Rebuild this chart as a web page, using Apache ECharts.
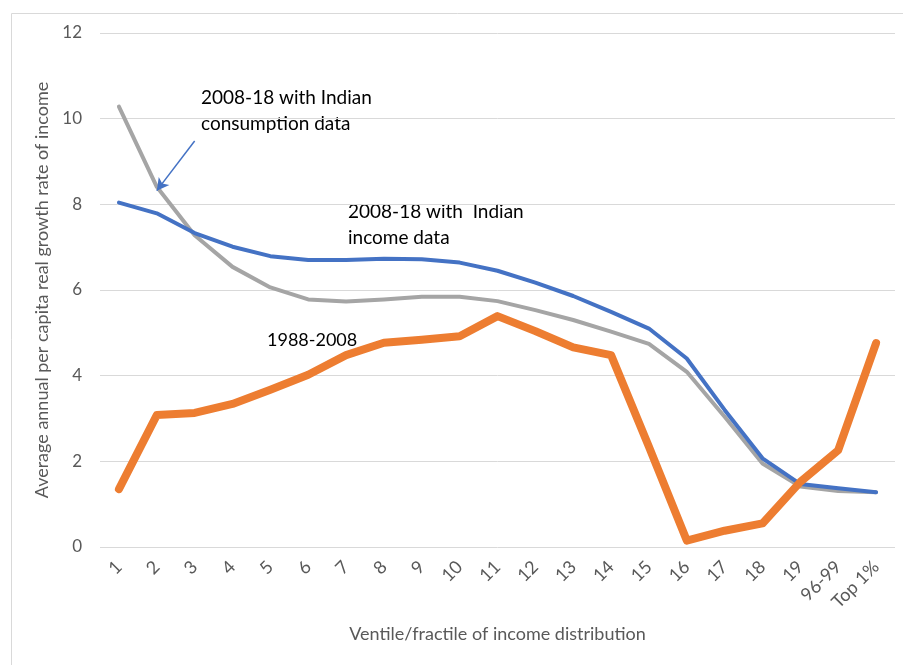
<!DOCTYPE html>
<html>
<head>
<meta charset="utf-8">
<script src="https://cdn.jsdelivr.net/npm/echarts@6/dist/echarts.min.js"></script>
<style>
  html, body { margin: 0; padding: 0; background: #fff; }
  #main { width: 903px; height: 665px; }
</style>
</head>
<body>
<div id="main"></div>
<script>
// categories on the x axis
const ventiles = ["1", "2", "3", "4", "5", "6", "7", "8", "9", "10", "11", "12", "13", "14", "15", "16", "17", "18", "19", "96-99", "Top 1%"];
// 2008-18, Indian income data
const incomeData = [8.04, 7.79, 7.33, 7.01, 6.79, 6.70, 6.70, 6.73, 6.72, 6.64, 6.45, 6.17, 5.86, 5.49, 5.10, 4.40, 3.20, 2.07, 1.47, 1.37, 1.28];
// 2008-18, Indian consumption data
const consumptionData = [10.28, 8.41, 7.28, 6.54, 6.06, 5.78, 5.73, 5.78, 5.84, 5.84, 5.74, 5.53, 5.30, 5.03, 4.74, 4.09, 3.04, 1.95, 1.41, 1.31, 1.28];
// 1988-2008
const oldData = [1.35, 3.08, 3.13, 3.34, 3.67, 4.02, 4.48, 4.77, 4.84, 4.92, 5.39, 5.04, 4.66, 4.48, 2.34, 0.15, 0.38, 0.55, 1.52, 2.26, 4.76];
const yTicks = [0, 2, 4, 6, 8, 10, 12];

const font = "Lato, 'Liberation Sans', sans-serif";
const axisGrey = "#595959";

const chart = echarts.init(document.getElementById("main"));
chart.setOption({
  animation: false,
  textStyle: { fontFamily: font },
  grid: { left: 100, right: 8, top: 33, bottom: 118 },
  xAxis: {
    type: "category",
    data: ventiles,
    boundaryGap: true,
    name: "Ventile/fractile of income distribution",
    nameLocation: "middle",
    nameGap: 78,
    nameTextStyle: { color: axisGrey, fontSize: 18, fontFamily: font },
    axisLine: { show: false },
    axisTick: { show: false },
    axisLabel: { rotate: 45, color: axisGrey, fontSize: 18, margin: 17, fontFamily: font }
  },
  yAxis: {
    type: "value",
    min: yTicks[0],
    max: yTicks[yTicks.length - 1],
    interval: 2,
    name: "Average annual per capita real growth rate of income",
    nameLocation: "middle",
    nameGap: 43,
    nameTextStyle: { color: axisGrey, fontSize: 18, fontFamily: font },
    axisLine: { show: false },
    axisTick: { show: false },
    axisLabel: { color: axisGrey, fontSize: 17, margin: 18, fontFamily: font },
    splitLine: { lineStyle: { color: "#d9d9d9", width: 1 } }
  },
  series: [
    {
      name: "2008-18 consumption",
      type: "line",
      data: consumptionData,
      symbol: "none",
      lineStyle: { color: "#a5a5a5", width: 4, cap: "round", join: "round" },
      z: 2
    },
    {
      name: "2008-18 income",
      type: "line",
      data: incomeData,
      symbol: "none",
      lineStyle: { color: "#4472c4", width: 4, cap: "round", join: "round" },
      z: 3,
      markLine: {
        silent: true,
        symbol: ["none", "arrow"],
        symbolSize: [10, 12],
        label: { show: false },
        lineStyle: { color: "#4472c4", width: 1.5, type: "solid" },
        data: [[{ coord: [2.27, 9.48] }, { coord: [1.24, 8.32] }]]
      }
    },
    {
      name: "1988-2008",
      type: "line",
      data: oldData,
      symbol: "none",
      lineStyle: { color: "#ed7d31", width: 8, cap: "round", join: "round" },
      z: 4
    }
  ],
  graphic: [
    {
      type: "rect",
      left: 9, top: 11,
      shape: { width: 1000, height: 1000 },
      style: { fill: "none", stroke: "#d9d9d9", lineWidth: 1 },
      silent: true
    },
    {
      type: "text",
      left: 201, top: 85,
      style: { text: "2008-18 with Indian\nconsumption data", fill: "#000", fontSize: 19, lineHeight: 26, fontFamily: font }
    },
    {
      type: "text",
      left: 348, top: 199,
      style: { text: "2008-18 with  Indian\nincome data", fill: "#000", fontSize: 19, lineHeight: 26, fontFamily: font }
    },
    {
      type: "text",
      left: 267, top: 331,
      style: { text: "1988-2008", fill: "#000", fontSize: 18, fontFamily: font }
    }
  ]
});
</script>
</body>
</html>
